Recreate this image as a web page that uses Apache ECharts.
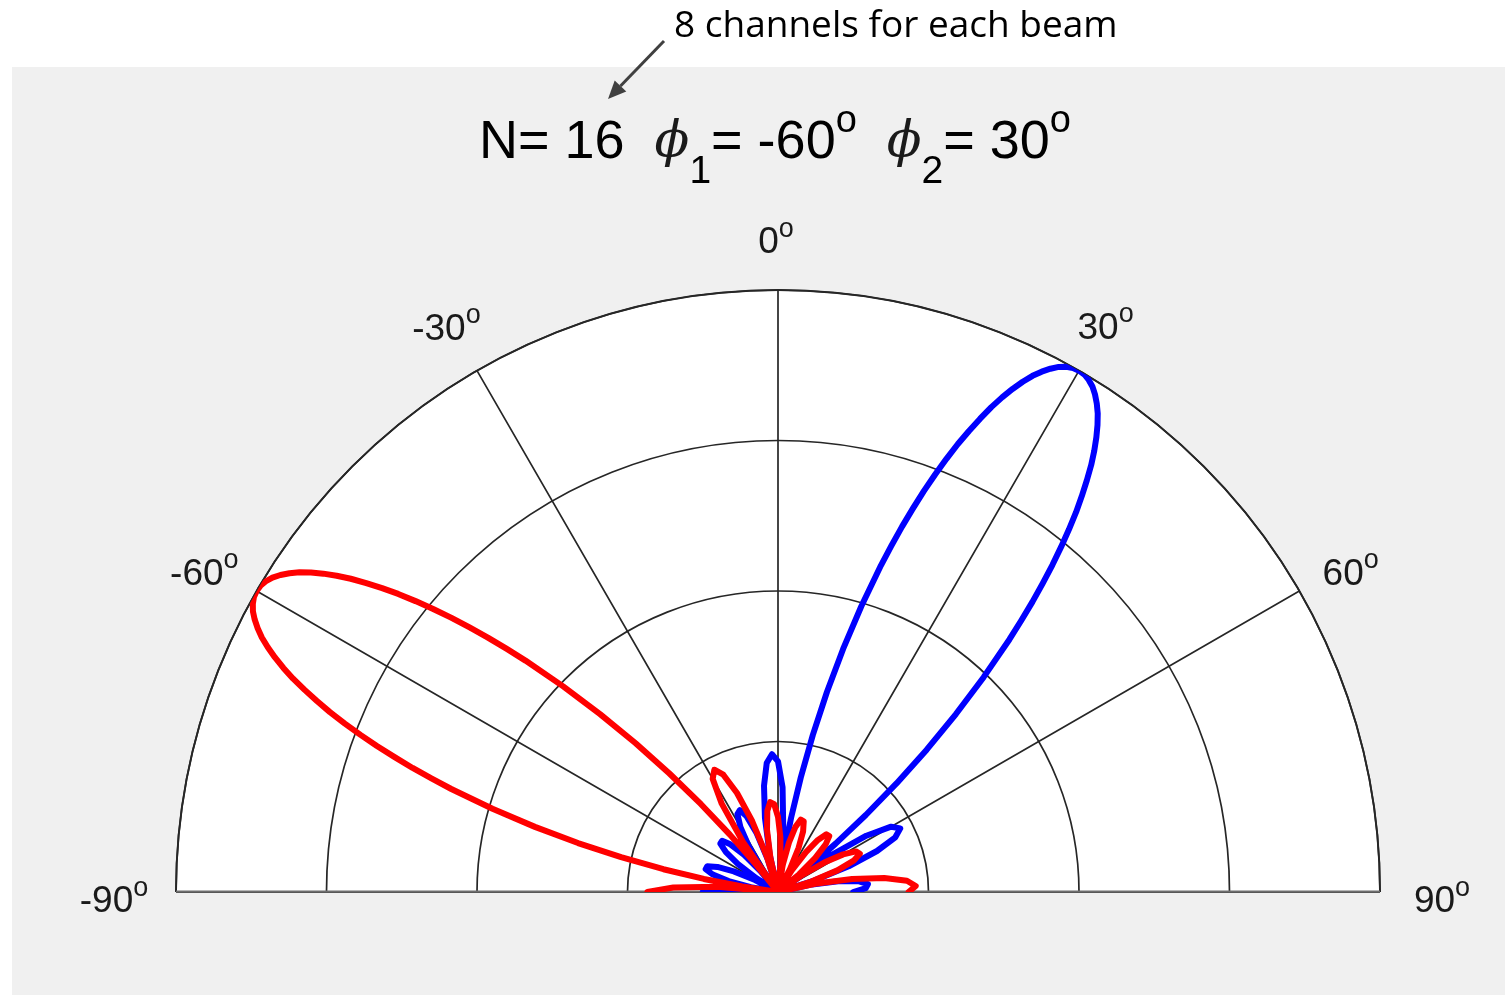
<!DOCTYPE html>
<html>
<head>
<meta charset="utf-8">
<script src="https://cdn.jsdelivr.net/npm/echarts@6/dist/echarts.min.js"></script>
<style>
  html, body { margin: 0; padding: 0; background: #ffffff; }
  #chart { width: 1505px; height: 995px; }
</style>
</head>
<body>
<div id="chart"></div>
<script>
// Normalised beam magnitude versus angle (degrees), beam steered to -60 deg
const redAngle = [-90, -87.5, -85, -82.5,
  -81.25, -80, -78.75, -77.5, -76.25, -75, -73.75,
  -72.5, -71.875, -71.25, -70.625, -70, -69.375, -68.75, -68.125, -67.5, -66.875, -66.25, -65.625, -65,
  -64.375, -63.75, -63.125, -62.5, -61.875, -61.25, -60.625, -60, -59.375, -58.75, -58.125, -57.5,
  -56.875, -56.25, -55.625, -55, -54.375, -53.75, -53.125, -52.5, -51.875, -51.25, -50.625, -50,
  -49.375, -48.75, -48.125, -47.5,
  -46.25, -45, -43.75, -42.5, -41.25, -40, -38.75,
  -37.5, -35, -32.5, -30, -27.5, -25, -22.5, -20, -17.5, -15, -12.5, -10, -7.5, -5, -2.5, 0, 2.5, 5,
  7.5, 10, 12.5, 15, 17.5, 20, 22.5, 25, 27.5, 30, 32.5, 35, 37.5, 40, 42.5, 45, 47.5, 50, 52.5, 55,
  57.5, 60, 62.5, 65, 67.5, 70, 72.5, 75, 77.5, 80, 82.5, 85, 87.5, 90];
const redGain = [0.217, 0.174, 0.101, 0,
  0.060, 0.125, 0.194, 0.267, 0.342, 0.418, 0.494,
  0.569, 0.605, 0.641, 0.675, 0.709, 0.741, 0.772, 0.802, 0.829, 0.855, 0.880, 0.902, 0.922,
  0.940, 0.956, 0.969, 0.980, 0.989, 0.995, 0.999, 1.000, 0.999, 0.995, 0.989, 0.980,
  0.969, 0.956, 0.940, 0.922, 0.902, 0.880, 0.855, 0.829, 0.802, 0.772, 0.741, 0.709,
  0.675, 0.641, 0.605, 0.569,
  0.494, 0.418, 0.342, 0.267, 0.194, 0.125, 0.060,
  0, 0.101, 0.174, 0.217, 0.229, 0.215, 0.178, 0.125, 0.063, 0, 0.058, 0.105, 0.136, 0.150, 0.146, 0.125, 0.091, 0.047,
  0, 0.046, 0.084, 0.112, 0.126, 0.125, 0.109, 0.081, 0.043, 0, 0.043, 0.081, 0.109, 0.125, 0.126, 0.112, 0.084, 0.046, 0, 0.047,
  0.091, 0.125, 0.146, 0.150, 0.136, 0.105, 0.058, 0, 0.063, 0.125, 0.178, 0.215, 0.229, 0.217];

// Normalised beam magnitude versus angle (degrees), beam steered to 30 deg
const blueAngle = [-90, -87.5, -85, -82.5, -80, -77.5, -75, -72.5, -70, -67.5, -65, -62.5, -60, -57.5,
  -55, -52.5, -50, -47.5, -45, -42.5, -40, -37.5, -35, -32.5, -30, -27.5, -25, -22.5, -20, -17.5, -15,
  -12.5, -10, -7.5, -5, -2.5, 0, 2.5, 5, 7.5,
  8.75, 10, 11.25, 12.5, 13.75, 15, 16.25,
  17.5, 18.125, 18.75, 19.375, 20, 20.625, 21.25, 21.875, 22.5, 23.125, 23.75, 24.375, 25,
  25.625, 26.25, 26.875, 27.5, 28.125, 28.75, 29.375, 30, 30.625, 31.25, 31.875, 32.5,
  33.125, 33.75, 34.375, 35, 35.625, 36.25, 36.875, 37.5, 38.125, 38.75, 39.375, 40,
  40.625, 41.25, 41.875, 42.5,
  43.75, 45, 46.25, 47.5, 48.75, 50, 51.25,
  52.5, 55, 57.5, 60, 62.5, 65, 67.5, 70, 72.5, 75, 77.5, 80, 82.5, 85, 87.5, 90];
const blueGain = [0.125, 0.091, 0.047, 0, 0.046, 0.084, 0.112, 0.126, 0.125, 0.109, 0.081, 0.043, 0, 0.043,
  0.081, 0.109, 0.125, 0.126, 0.112, 0.084, 0.046, 0, 0.047, 0.091, 0.125, 0.146, 0.150, 0.136, 0.105, 0.058, 0,
  0.063, 0.125, 0.178, 0.215, 0.229, 0.217, 0.174, 0.101, 0,
  0.060, 0.125, 0.194, 0.267, 0.342, 0.418, 0.494,
  0.569, 0.605, 0.641, 0.675, 0.709, 0.741, 0.772, 0.802, 0.829, 0.855, 0.880, 0.902, 0.922,
  0.940, 0.956, 0.969, 0.980, 0.989, 0.995, 0.999, 1.000, 0.999, 0.995, 0.989, 0.980,
  0.969, 0.956, 0.940, 0.922, 0.902, 0.880, 0.855, 0.829, 0.802, 0.772, 0.741, 0.709,
  0.675, 0.641, 0.605, 0.569,
  0.494, 0.418, 0.342, 0.267, 0.194, 0.125, 0.060,
  0, 0.101, 0.174, 0.217, 0.229, 0.215, 0.178, 0.125, 0.063, 0, 0.058, 0.105, 0.136, 0.150, 0.146, 0.125];

// Angular ticks and their labels
const tickAngles = [-90, -60, -30, 0, 30, 60, 90];
const tickLabels = ['-90', '-60', '-30', '0', '30', '60', '90'];

const toPolar = (angles, gains) => angles.map((a, i) => [gains[i], a]);

const CX = 778, CY = 892, R = 602;
const gridColor = '#262626';
const labelColor = '#1a1a1a';
// label ring radius (fraction of outer ring) and small pixel nudges per tick label
const labelRing = { '-90': 1.103, '90': 1.103 };
const labelNudge = {
  '-90': [0, 10], '-60': [-8, 9], '-30': [-5, 3], '0': [-2, 4],
  '30': [1, 2], '60': [7, 9], '90': [0, 10]
};

const chart = echarts.init(document.getElementById('chart'), null, { renderer: 'canvas' });

const titleText = '{m|N= 16  }{p|\u03d5}{b|1}{m|= -60}{u|o}{m|  }{p|\u03d5}{b|2}{m|= 30}{u|o}';

chart.setOption({
  animation: false,
  backgroundColor: '#ffffff',
  polar: { center: [CX, CY], radius: R },
  angleAxis: {
    type: 'value',
    min: -90, max: 90, interval: 30,
    startAngle: 180, endAngle: 0, clockwise: true,
    axisLine: { show: true, lineStyle: { color: gridColor, width: 1.9 } },
    axisTick: { show: false },
    axisLabel: { show: false },
    splitLine: { show: true, lineStyle: { color: gridColor, width: 1.7 } },
    splitArea: { show: false }
  },
  radiusAxis: {
    type: 'value',
    min: 0, max: 1, interval: 0.25,
    axisLine: { show: false },
    axisTick: { show: false },
    axisLabel: { show: false },
    splitLine: { show: true, lineStyle: { color: gridColor, width: 1.7 } },
    splitArea: { show: false }
  },
  graphic: [
    { type: 'rect', z: -100, silent: true,
      shape: { x: 12, y: 67, width: 1493, height: 928 },
      style: { fill: '#f0f0f0' } },
    { type: 'sector', z: -90, silent: true,
      shape: { cx: CX, cy: CY, r0: 0, r: R, startAngle: Math.PI, endAngle: 2 * Math.PI, clockwise: true },
      style: { fill: '#ffffff' } },
    { type: 'text', x: 674, y: 26, silent: true,
      style: { text: '8 channels for each beam', fontFamily: 'Open Sans', fontSize: 37,
               fill: '#000000', align: 'left', verticalAlign: 'middle' } },
    { type: 'line', silent: true,
      shape: { x1: 664, y1: 41, x2: 620.5, y2: 86 },
      style: { stroke: '#404040', lineWidth: 3 } },
    { type: 'polygon', silent: true,
      shape: { points: [[608, 99], [626.3, 91.6], [614.7, 80.4]] },
      style: { fill: '#404040' } },
    { type: 'text', x: 775, y: 143, silent: true,
      style: {
        text: titleText, align: 'center', verticalAlign: 'middle',
        rich: {
          m: { fontFamily: 'Liberation Sans', fontSize: 54, lineHeight: 98, fill: '#000000' },
          p: { fontFamily: 'DejaVu Serif', fontStyle: 'italic', fontSize: 51, lineHeight: 60, fill: '#1a1a1a' },
          b: { fontFamily: 'Liberation Sans', fontSize: 39, lineHeight: 38, verticalAlign: 'bottom', fill: '#000000' },
          u: { fontFamily: 'Liberation Sans', fontSize: 38, height: 55, verticalAlign: 'top', fill: '#000000' }
        }
      } }
  ],
  series: [
    {
      // zero-angle baseline across the half plane
      type: 'line', coordinateSystem: 'polar', silent: true, clip: false,
      showSymbol: false, symbol: 'none',
      data: [[1, -90], [0, 0], [1, 90]],
      lineStyle: { color: '#6e6e6e', width: 3 }
    },
    {
      name: 'beam 2', type: 'line', coordinateSystem: 'polar', clip: false,
      showSymbol: false, symbol: 'none', smooth: false,
      data: toPolar(blueAngle, blueGain),
      lineStyle: { color: '#0000ff', width: 6, join: 'round', cap: 'round' }
    },
    {
      name: 'beam 1', type: 'line', coordinateSystem: 'polar', clip: false,
      showSymbol: false, symbol: 'none', smooth: false,
      data: toPolar(redAngle, redGain),
      lineStyle: { color: '#ff0000', width: 6, join: 'round', cap: 'round' }
    },
    {
      // angular tick labels placed just outside the outer ring
      type: 'scatter', coordinateSystem: 'polar', silent: true, clip: false,
      symbolSize: 1, itemStyle: { color: labelColor, opacity: 0 },
      data: tickAngles.map((a, i) => {
        const key = tickLabels[i];
        return {
          value: [labelRing[key] || 1.085, a],
          name: key,
          label: { offset: labelNudge[key] }
        };
      }),
      label: {
        show: true, position: 'inside', color: labelColor, opacity: 1,
        textBorderWidth: 0,
        formatter: (p) => '{v|' + p.name + '}{s|o}',
        rich: {
          v: { fontFamily: 'Liberation Sans', fontSize: 37, lineHeight: 40, color: labelColor },
          s: { fontFamily: 'Liberation Sans', fontSize: 27, height: 13, verticalAlign: 'top', color: labelColor }
        }
      },
      z: 5
    }
  ]
});
</script>
</body>
</html>
